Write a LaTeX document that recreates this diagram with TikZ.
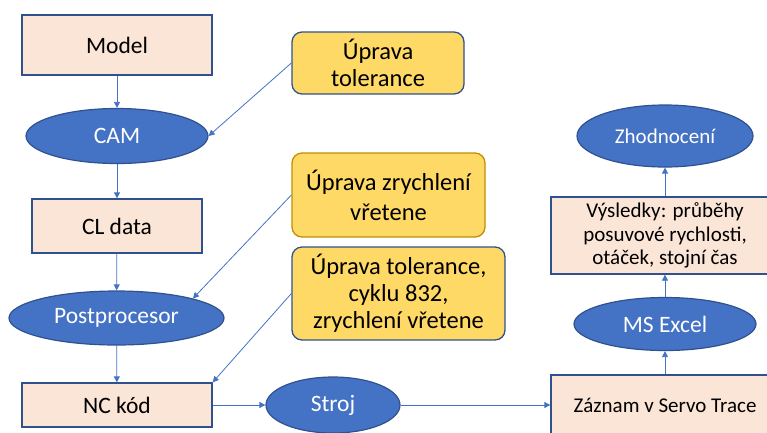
\documentclass[tikz,border=0pt]{standalone}
\usepackage{fontspec}
\setmainfont{Carlito}
\usetikzlibrary{arrows.meta,shapes.geometric}
\definecolor{peach}{HTML}{FBE5D6}
\definecolor{navy}{HTML}{2F528F}
\definecolor{accent}{HTML}{4472C4}
\definecolor{gold}{HTML}{FFD966}
\definecolor{goldline}{HTML}{BF9000}
\begin{document}
\begin{tikzpicture}[x=1pt,y=-1pt,
  every node/.style={font=\fontsize{23.5}{26}\selectfont, inner sep=0pt, align=center},
  small/.style={font=\fontsize{21}{25}\selectfont},
  stepbox/.style={rectangle, draw=navy, line width=1.3pt, fill=peach, text=black},
  toolnode/.style={ellipse, draw=navy, line width=1.2pt, fill=accent, text=white},
  notebox/.style={rectangle, rounded corners=10pt, draw=navy, line width=1.3pt, fill=gold, text=black,
    font=\fontsize{24.5}{27}\selectfont},
  flow/.style={draw=accent, line width=0.8pt, -{Triangle[width=6pt,length=6pt]}}]
\useasboundingbox (0,0) rectangle (767,432);
\clip (0,0) rectangle (767,432);

% main processing chain (left column)
\node[stepbox, minimum width=190pt, minimum height=60pt] (model) at (117,45) {Model};
\node[toolnode, minimum width=182pt, minimum height=55pt] (cam) at (117,136) {CAM};
\node[stepbox, minimum width=170pt, minimum height=54pt] (cl) at (117,226) {CL data};
\node[toolnode, minimum width=215pt, minimum height=54pt] (post) at (116.5,318) {Postprocesor};
\node[stepbox, minimum width=190pt, minimum height=44pt] (nc) at (117,405) {NC kód};

% machine and measurement chain
\node[toolnode, minimum width=134pt, minimum height=56pt] (stroj) at (333,405) {Stroj};
\node[stepbox, small, minimum width=228pt, minimum height=60pt] (trace) at (665,405) {Záznam v Servo Trace};
\node[toolnode, minimum width=182pt, minimum height=53pt] (excel) at (665,324) {MS Excel};
\node[stepbox, small, minimum width=228pt, minimum height=77pt] (res) at (665,235.5)
  {Výsledky: průběhy\\[-1pt]posuvové rychlosti,\\[-2pt]otáček, stojní čas};
\node[toolnode, small, minimum width=176pt, minimum height=62pt] (eval) at (665,136) {Zhodnocení};

% parameter adjustments
\node[notebox, minimum width=172pt, minimum height=62pt] (tol) at (378,63) {Úprava\\tolerance};
\node[notebox, draw=goldline, minimum width=193pt, minimum height=84pt] (acc) at (388.5,195) {Úprava zrychlení\\[3pt]vřetene};
\node[notebox, minimum width=213pt, minimum height=93pt] (mix) at (398.5,293.5)
  {Úprava tolerance,\\cyklu 832,\\zrychlení vřetene};

% connectors
\draw[flow] (model) -- (cam);
\draw[flow] (cam) -- (cl);
\draw[flow] (cl) -- (post);
\draw[flow] (post) -- (nc);
\draw[flow] (nc) -- (stroj);
\draw[flow] (stroj) -- (trace);
\draw[flow] (trace.north -| excel.south) -- (excel.south);
\draw[flow] (excel) -- (res.south -| excel.north);
\draw[flow] (res.north -| eval.south) -- (eval);
\draw[flow] (tol.west) -- (cam.east);
\draw[flow] (acc.west) -- (post.north east);
\draw[flow] (mix.west) -- (nc.north east);
\end{tikzpicture}
\end{document}
